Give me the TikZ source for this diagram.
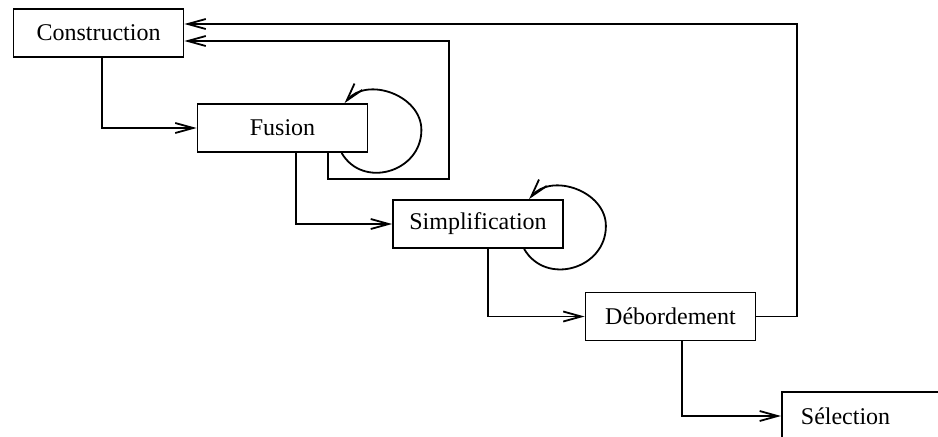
\documentclass[tikz,border=0pt]{standalone}
\usepackage{fontspec}
\setmainfont{Liberation Serif}
\usetikzlibrary{arrows.meta}

\begin{document}
\begin{tikzpicture}[x=0.5pt,y=-0.5pt,
  box/.style={draw,line width=0.9pt,minimum width=85pt,minimum height=24pt,inner sep=0pt,font=\fontsize{12}{14}\selectfont},
  arr/.style={line width=0.9pt,-{Straight Barb[length=9pt,width=5pt]}}]
\clip (0,0) rectangle (938,436);
\fill[white] (0,0) rectangle (938,436);

\node[box] (cons) at (98.5,33) {Construction};
\node[box] (fus) at (282.5,128) {Fusion};
\node[box] (simp) at (478,224) {Simplification};
\node[box] (deb) at (670.5,316.5) {Débordement};
\node[box,anchor=west,text width=66pt,inner xsep=9.5pt,align=left] (sel) at (781,416) {Sélection};

\draw[arr] ([xshift=44.5pt]cons.south west) |- (fus.west);
\draw[arr] ([xshift=49.5pt]fus.south west) |- (simp.west);
\draw[arr] ([xshift=48pt]simp.south west) |- (deb.west);
\draw[arr] ([xshift=48.5pt]deb.south west) |- (sel.west);

\draw[arr] ([xshift=65.5pt]fus.south west) -- ++(0,26) -| (449,41) -- ([yshift=-4pt]cons.east);
\draw[arr] (deb.east) -| (797,24) -- ([yshift=4.5pt]cons.east);

\draw[arr] ([xshift=72.5pt]fus.south west) to[out=-60,in=-90,looseness=1.3] ([xshift=26.5pt,yshift=-1pt]fus.east)
  to[out=90,in=50,looseness=1.1] ([xshift=74pt]fus.north west);
\draw[arr] ([xshift=66pt]simp.south west) to[out=-60,in=-90,looseness=1.3] ([xshift=21pt,yshift=-1pt]simp.east)
  to[out=90,in=50,looseness=1.1] ([xshift=68.5pt]simp.north west);
\end{tikzpicture}
\end{document}
